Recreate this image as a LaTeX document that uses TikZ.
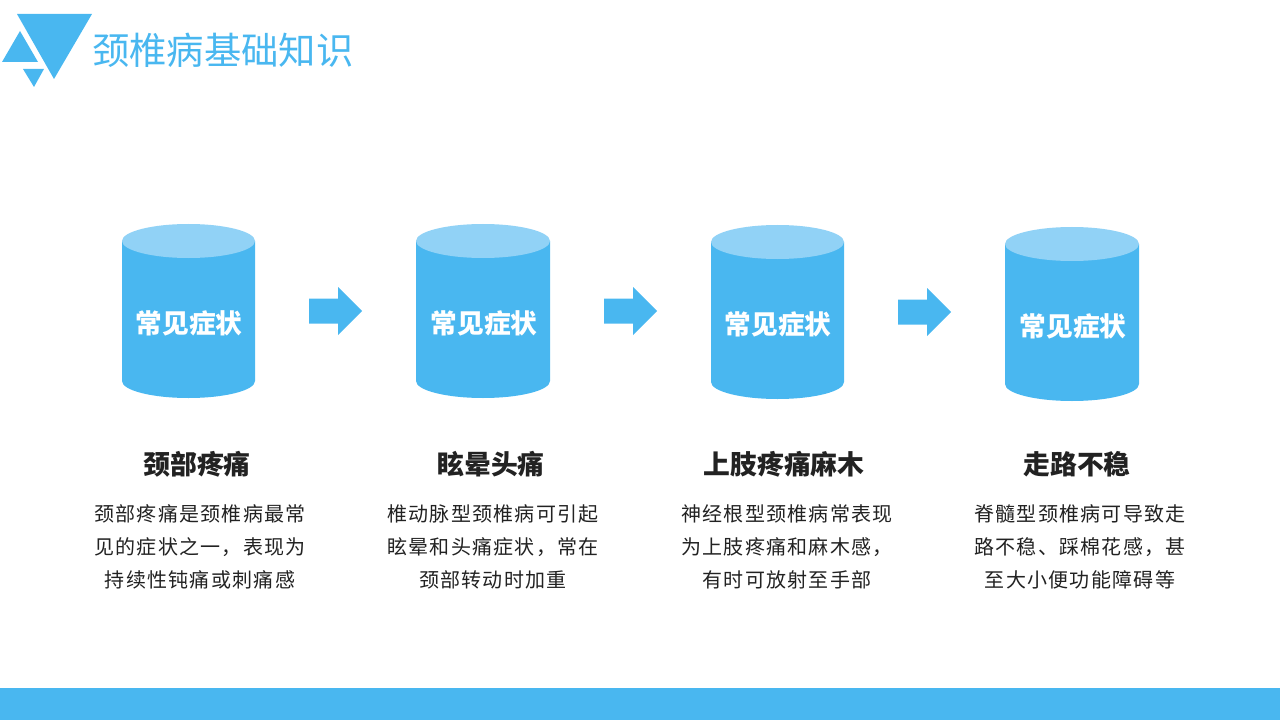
\documentclass[tikz,border=0pt]{standalone}
\usepackage{fontspec}
\setmainfont{Noto Sans CJK SC}
\newfontfamily\cjkbody[LetterSpace=6.5]{Noto Sans CJK SC}
\definecolor{skyblue}{HTML}{49B7F0}
\definecolor{skylight}{HTML}{91D2F6}
\definecolor{inkdark}{HTML}{222222}
\tikzset{
  x=0.75pt,y=-0.75pt,
  cyllabel/.style={text=white,font=\fontsize{20pt}{24pt}\selectfont\bfseries,inner sep=0pt},
  heading/.style={text=inkdark,font=\fontsize{20.1pt}{24pt}\selectfont\bfseries,inner sep=0pt},
  bodytext/.style={text=inkdark,align=center,inner sep=0pt,font=\fontsize{15pt}{25pt}\selectfont\cjkbody},
  titletext/.style={text=skyblue,font=\fontsize{28pt}{32pt}\selectfont,inner sep=0pt,anchor=west},
  solidblue/.style={fill=skyblue,draw=none},
  lidblue/.style={fill=skylight,draw=none},
}
\newcommand{\cylshape}[5]{% left right topcentre-y bottomcentre-y ry
  \fill[solidblue] (#1,#3) -- (#1,#4)
    arc[start angle=180,end angle=0,x radius={(#2-#1)/2},y radius=#5] -- (#2,#3) -- cycle;
  \fill[lidblue] ({(#1+#2)/2},#3) ellipse[x radius={(#2-#1)/2},y radius=#5];
}
\newcommand{\rarrow}[2]{% left x, centre y
  \fill[solidblue] (#1,#2-12.5) -- (#1+29,#2-12.5) -- (#1+29,#2-24) -- (#1+53,#2)
    -- (#1+29,#2+24) -- (#1+29,#2+12.5) -- (#1,#2+12.5) -- cycle;
}
\begin{document}
\begin{tikzpicture}
\useasboundingbox (0,0) rectangle (1280,720);
% header triangles
\fill[solidblue] (17,14) -- (92,14) -- (54,79) -- cycle;
\fill[solidblue] (20,31) -- (38,62) -- (2,62) -- cycle;
\fill[solidblue] (23,69) -- (44,69) -- (34,87) -- cycle;
\node[titletext] (title) at (92,50) {颈椎病基础知识};
% cylinders
\cylshape{122}{255}{241}{381}{17}
\cylshape{416}{550}{241}{381}{17}
\cylshape{711}{844}{242}{382}{17}
\cylshape{1005}{1139}{244}{384}{17}
\node[cyllabel] (c1) at (189,323) {常见症状};
\node[cyllabel] (c2) at (484,323) {常见症状};
\node[cyllabel] (c3) at (778,324) {常见症状};
\node[cyllabel] (c4) at (1073,326) {常见症状};
% arrows
\rarrow{309}{311}
\rarrow{604}{311}
\rarrow{898}{312}
% headings
\node[heading] (h1) at (197,464) {颈部疼痛};
\node[heading] (h2) at (491,464) {眩晕头痛};
\node[heading] (h3) at (784,464) {上肢疼痛麻木};
\node[heading] (h4) at (1077,464) {走路不稳};
% body
\node[bodytext] (b1) at (200,547) {颈部疼痛是颈椎病最常\\见的症状之一，表现为\\持续性钝痛或刺痛感};
\node[bodytext] (b2) at (493,547) {椎动脉型颈椎病可引起\\眩晕和头痛症状，常在\\颈部转动时加重};
\node[bodytext] (b3) at (787,547) {神经根型颈椎病常表现\\为上肢疼痛和麻木感，\\有时可放射至手部};
\node[bodytext] (b4) at (1080,547) {脊髓型颈椎病可导致走\\路不稳、踩棉花感，甚\\至大小便功能障碍等};
% footer
\fill[solidblue] (0,688) rectangle (1280,720);
\end{tikzpicture}
\end{document}
